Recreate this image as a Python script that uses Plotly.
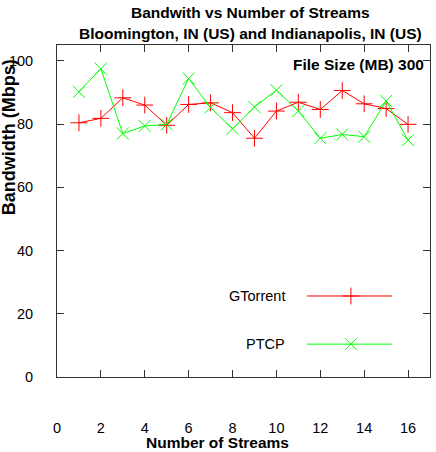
import plotly.graph_objects as go

streams = list(range(1, 17))
gtorrent = [80.4, 81.8, 88.3, 86.0, 79.6, 86.2, 86.7, 83.6, 75.5, 84.1, 86.9, 84.6, 90.6, 86.4, 84.9, 79.9]
ptcp = [90.2, 97.5, 77.0, 79.4, 79.9, 94.4, 85.2, 78.5, 85.4, 90.7, 84.1, 75.5, 76.7, 76.0, 87.3, 74.9]
x_ticks = list(range(0, 17, 2))
y_ticks = list(range(0, 101, 20))
series_names = ["GTorrent", "PTCP"]

FONT = "Liberation Sans, Arial, sans-serif"
RED = "#ff0000"
GREEN = "#00ff00"


def f(size, color="#000"):
    return dict(family=FONT, size=size, color=color)


fig = go.Figure()
fig.add_trace(go.Scatter(x=streams, y=gtorrent, mode="lines+markers", name=series_names[0],
                         line=dict(color=RED, width=1),
                         marker=dict(symbol="cross-thin", size=12, line=dict(color=RED, width=1)),
                         showlegend=False))
fig.add_trace(go.Scatter(x=streams, y=ptcp, mode="lines+markers", name=series_names[1],
                         line=dict(color=GREEN, width=1),
                         marker=dict(symbol="x-thin", size=12, line=dict(color=GREEN, width=1)),
                         showlegend=False))

# custom legend (text left, sample right) on an overlay axis
leg_y = [0.244, 0.099]
for name, col, sym, ly in [(series_names[0], RED, "cross-thin", leg_y[0]),
                           (series_names[1], GREEN, "x-thin", leg_y[1])]:
    fig.add_trace(go.Scatter(x=[0.670, 0.898], y=[ly, ly], mode="lines", xaxis="x2", yaxis="y2",
                             line=dict(color=col, width=1), showlegend=False, hoverinfo="skip"))
    fig.add_trace(go.Scatter(x=[0.788], y=[ly], mode="markers", xaxis="x2", yaxis="y2",
                             marker=dict(symbol=sym, size=12, line=dict(color=col, width=1)),
                             showlegend=False, hoverinfo="skip"))
    fig.add_annotation(x=0.617, y=ly, xref="paper", yref="paper", text=name, showarrow=False,
                       xanchor="right", yanchor="middle", font=f(14.5))

axis_common = dict(showline=True, linecolor="#333", linewidth=1, mirror="ticks", ticks="inside",
                   ticklen=7, tickcolor="#333", showgrid=False, zeroline=False,
                   tickfont=f(14.5))
fig.update_layout(
    width=436, height=452,
    margin=dict(l=57, r=6, t=45, b=75),
    plot_bgcolor="white", paper_bgcolor="white",
    xaxis=dict(range=[0, 17], tickvals=x_ticks, ticklabelstandoff=38, **axis_common),
    yaxis=dict(range=[0, 105], tickvals=y_ticks, ticklabelstandoff=20, **axis_common),
    xaxis2=dict(overlaying="x", range=[0, 1], visible=False),
    yaxis2=dict(overlaying="y", range=[0, 1], visible=False),
)
fig.add_annotation(x=0.43, y=-0.196, xref="paper", yref="paper", text="<b>Number of Streams</b>",
                   showarrow=False, xanchor="center", yanchor="middle", font=f(15.5))
fig.add_annotation(x=-0.128, y=0.723, xref="paper", yref="paper", text="<b>Bandwidth (Mbps)</b>",
                   showarrow=False, textangle=-90, xanchor="center", yanchor="middle", font=f(18))
fig.add_annotation(x=0.989, y=0.94, xref="paper", yref="paper", text="<b>File Size (MB) 300</b>",
                   showarrow=False, xanchor="right", yanchor="middle", font=f(15.5))
fig.add_annotation(x=0.52, y=1.0964, xref="paper", yref="paper",
                   text="<b>Bandwith vs Number of Streams</b>",
                   showarrow=False, xanchor="center", yanchor="middle", font=f(15.5))
fig.add_annotation(x=0.52, y=1.036, xref="paper", yref="paper",
                   text="<b>Bloomington, IN (US) and Indianapolis, IN (US)</b>",
                   showarrow=False, xanchor="center", yanchor="middle", font=f(15.5))
fig.write_html("out.html")
